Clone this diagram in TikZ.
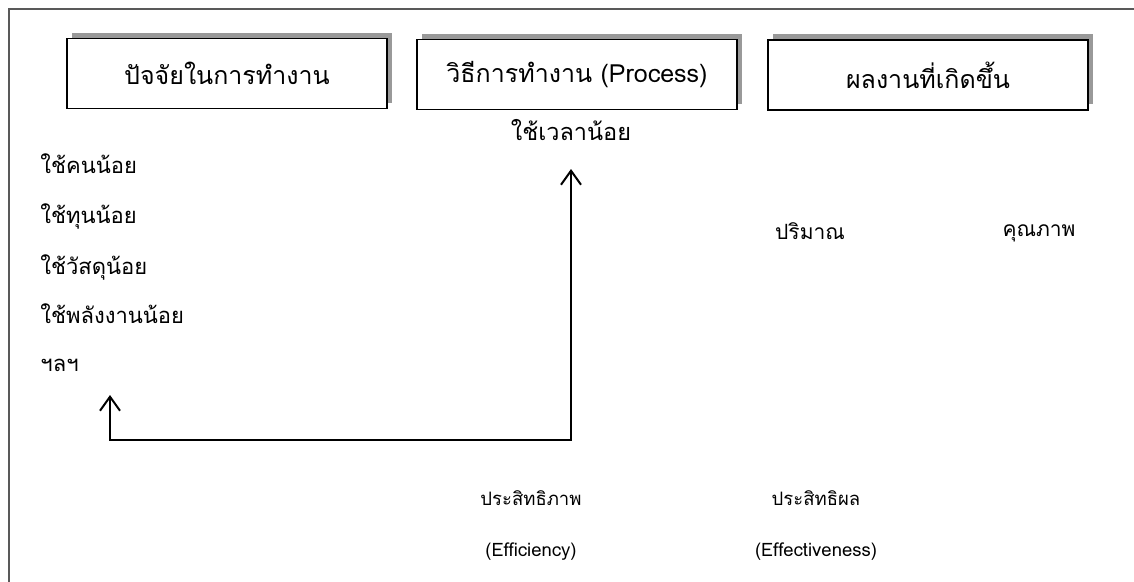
\documentclass[tikz,border=0pt]{standalone}
\usepackage{fontspec}
\setmainfont[Script=Thai]{Loma}
\usetikzlibrary{positioning,shadows,arrows.meta}

\begin{document}
\begin{tikzpicture}[x=1pt,y=-1pt,thick,>={Straight Barb[length=14pt,width=20pt]}]
\tikzstyle{head}=[rectangle,draw,line width=1.6pt,fill=white,minimum width=320pt,minimum height=70pt,font=\fontsize{25}{29}\selectfont,drop shadow={shadow xshift=5pt,shadow yshift=6pt,fill=black!40,opacity=1}]
\tikzstyle{item}=[inner sep=0pt,font=\fontsize{22}{26}\selectfont]
\tikzstyle{small}=[inner sep=0pt,font=\fontsize{18.5}{22}\selectfont]
\useasboundingbox (0,0) rectangle (1134,581);
% frame
\draw[black!65,line width=1.2pt] (9,9) rectangle (1160,600);
% headings
\node[head] (input)   at (227,73.5) {ปัจจัยในการทำงาน};
\node[head] (process) at (577,74.5) {วิธีการทำงาน (Process)};
\node[head] (output)  at (928,75)   {ผลงานที่เกิดขึ้น};
% inputs
\node[item,anchor=base west] (staff) at (40,173) {ใช้คนน้อย};
\node[item] (money)  [below=50pt of staff.base west,anchor=base west]  {ใช้ทุนน้อย};
\node[item] (stuff)  [below=51pt of money.base west,anchor=base west]  {ใช้วัสดุน้อย};
\node[item] (energy) [below=49pt of stuff.base west,anchor=base west]  {ใช้พลังงานน้อย};
\node[item] (etc)    [below=48pt of energy.base west,anchor=base west] {ฯลฯ};
% process
\node[item,font=\fontsize{23.5}{28}\selectfont,anchor=base] (time) at (571,140) {ใช้เวลาน้อย};
% outputs
\node[item,font=\fontsize{21}{25}\selectfont,anchor=base] (quantity) at (810,239) {ปริมาณ};
\node[item,font=\fontsize{21}{25}\selectfont,anchor=base] (quality)  at (1039,236) {คุณภาพ};
% results
\node[small,anchor=base] (efficiency)    at (531,505) {ประสิทธิภาพ};
\node[small,anchor=base] (efficiencyen)  [below=51pt of efficiency.base,anchor=base] {(Efficiency)};
\node[small,anchor=base] (effective)     at (816,505) {ประสิทธิผล};
\node[small,anchor=base] (effectiveen)   [below=51pt of effective.base,anchor=base] {(Effectiveness)};
% feedback
\coordinate (back) at (110,395);
\coordinate (turn) at (110,440);
\coordinate (tip) at (571,169);
\draw[<->,line width=2pt] (back) -- (turn) -| (tip);
\end{tikzpicture}
\end{document}
